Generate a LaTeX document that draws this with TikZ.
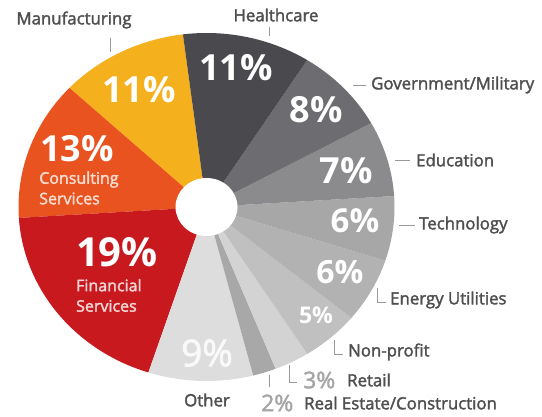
\documentclass[tikz,border=0pt]{standalone}
\usepackage{fontspec}
\setmainfont{Open Sans}
\newfontfamily\semibold[FakeBold=2]{Open Sans}
\usetikzlibrary{positioning,calc}

\definecolor{manuyellow}{HTML}{F5B01E}
\definecolor{consorange}{HTML}{E9531F}
\definecolor{finred}{HTML}{C7191E}
\definecolor{healthgray}{HTML}{4A494E}
\definecolor{govgray}{HTML}{6D6C70}
\definecolor{edugray}{HTML}{8B8A8D}
\definecolor{techgray}{HTML}{A7A7A8}
\definecolor{energygray}{HTML}{B2B2B2}
\definecolor{npgray}{HTML}{C0C0C0}
\definecolor{retailgray}{HTML}{D3D3D3}
\definecolor{estategray}{HTML}{A8A8A8}
\definecolor{othergray}{HTML}{DDDDDD}
\definecolor{labelgray}{HTML}{4F4F4F}

\tikzset{
  pct/.style={text=white,font=\bfseries\fontsize{36}{36}\selectfont,inner sep=0},
  sector/.style={text=labelgray,font=\semibold\fontsize{16.8}{20}\selectfont,inner sep=0},
  inname/.style={font=\semibold\fontsize{16}{20.5}\selectfont,inner sep=0,align=left},
  leader/.style={draw=gray!80,line width=0.7pt},
}

\begin{document}
\begin{tikzpicture}[x=1pt,y=1pt]
  \useasboundingbox (0,0) rectangle (542,417);
  \coordinate (C) at (206.5,210);
  % slices, counterclockwise from Manufacturing
  \foreach \a/\b/\c in {97.2/136.8/manuyellow,136.8/183.6/consorange,183.6/252/finred,
      252/284.4/othergray,284.4/291.6/estategray,291.6/302.4/retailgray,302.4/320.4/npgray,
      320.4/342/energygray,342/363.6/techgray,3.6/28.8/edugray,28.8/57.6/govgray,57.6/97.2/healthgray}
    \fill[\c] (C) -- ++(\a:188pt and 174pt) arc[start angle=\a,end angle=\b,x radius=188pt,y radius=174pt] -- cycle;
  \fill[white] (C) ellipse[x radius=31pt,y radius=29pt];

  % percentages
  \node (ManuPct) [pct] at (139,327) {11\%};
  \node (HealthPct) [pct] at (236,349) {11\%};
  \node (GovPct) [pct] at (316,307) {8\%};
  \node (EduPct) [pct] at (346,246) {7\%};
  \node (TechPct) [pct,font=\bfseries\fontsize{33}{33}\selectfont] at (355,196) {6\%};
  \node (EnergyPct) [pct,font=\bfseries\fontsize{32}{32}\selectfont] at (340,145) {6\%};
  \node (NpPct) [pct,font=\bfseries\fontsize{23}{23}\selectfont] at (316,102) {5\%};
  \node (OtherPct) [pct,text=white!95!gray,font=\semibold\fontsize{37}{37}\selectfont] at (207,64) {9\%};
  \node (FinPct) [pct,font=\bfseries\fontsize{40}{40}\selectfont] at (117,165) {19\%};
  \node (FinName) [inname,text=white!82!finred,anchor=north west] at ([yshift=-12pt]FinPct.south west) {Financial\\Services};
  \node (ConsPct) [pct] at (77,268) {13\%};
  \node (ConsName) [inname,text=white!80!consorange,anchor=north west] at ([xshift=-1pt,yshift=-9pt]ConsPct.south west) {Consulting\\Services};

  % sector names
  \node (Manu) [sector] at (74,397) {Manufacturing};
  \node (Health) [sector] at (276,402) {Healthcare};
  \node (Gov) [sector,anchor=west] at (371,332) {Government/Military};
  \node (Edu) [sector,anchor=west] at (416,257) {Education};
  \node (Tech) [sector,anchor=west] at (419,192) {Technology};
  \node (Energy) [sector,anchor=west] at (390,117) {Energy Utilities};
  \node (Np) [sector,anchor=west] at (348,65) {Non-profit};
  \node (RetailPct) [sector,text=gray!70,font=\semibold\fontsize{23}{23}\selectfont,anchor=west] at (303,37) {3\%};
  \node (Retail) [sector,anchor=west] at (347,37) {Retail};
  \node (EstatePct) [sector,text=gray!70,font=\semibold\fontsize{23}{23}\selectfont,anchor=west] at (261,14) {2\%};
  \node (Estate) [sector,anchor=west] at (304,14) {Real Estate/Construction};
  \node (Other) [sector] at (207,17) {Other};

  % leader ticks
  \coordinate (ManuTick) at (110,365);
  \coordinate (HealthTick) at (269,381);
  \coordinate (GovTick) at (353,332);
  \coordinate (EduTick) at (395,257);
  \coordinate (TechTick) at (399,192);
  \coordinate (EnergyTick) at (377,129);
  \coordinate (NpTick) at (334,77);
  \coordinate (RetailTick) at (289,52);
  \coordinate (EstateTick) at (269,30);
  \draw[leader] (ManuTick) -- ++(0,14);
  \draw[leader] (HealthTick) -- ++(0,9);
  \draw[leader] (GovTick) -- ([xshift=-5pt]Gov.west);
  \draw[leader] (EduTick) -- ([xshift=-6pt]Edu.west);
  \draw[leader] (TechTick) -- ([xshift=-4pt]Tech.west);
  \draw[leader] (EnergyTick) |- ([xshift=-4pt,yshift=-2pt]Energy.west);
  \draw[leader] (NpTick) |- ([xshift=-5pt,yshift=-2pt]Np.west);
  \draw[leader] (RetailTick) |- ([xshift=-6pt,yshift=-2pt]RetailPct.west);
  \draw[leader] (EstateTick) -- ++(0,12);
\end{tikzpicture}
\end{document}
